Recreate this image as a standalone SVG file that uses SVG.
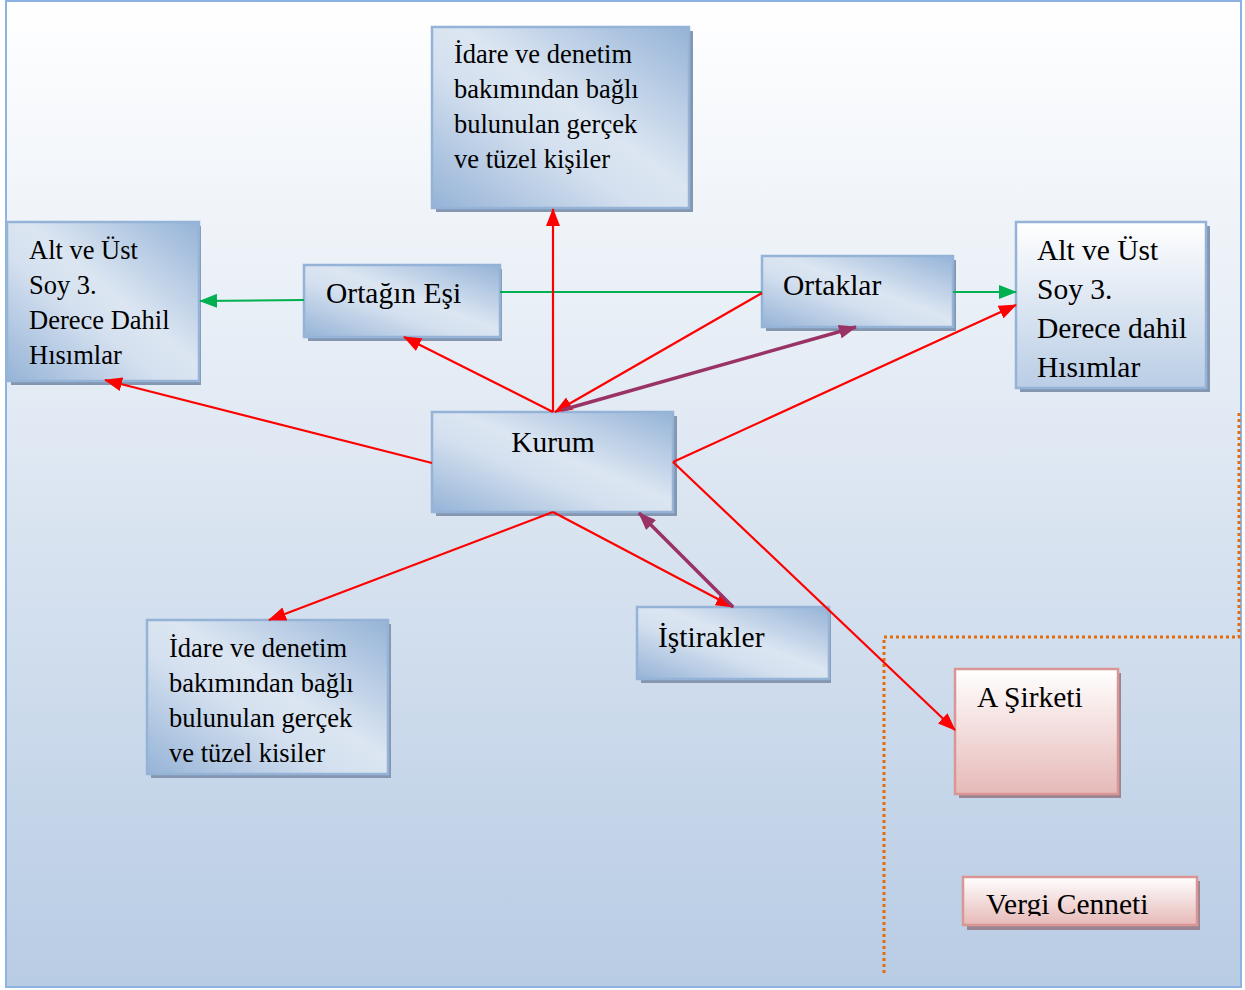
<svg xmlns="http://www.w3.org/2000/svg" width="1245" height="990" viewBox="0 0 1245 990">
  <defs>
    <linearGradient id="bg" x1="0" y1="0" x2="0" y2="1">
      <stop offset="0" stop-color="#ffffff"/>
      <stop offset="1" stop-color="#b8cce4"/>
    </linearGradient>
    <linearGradient id="blueBox" x1="1" y1="0" x2="0" y2="1">
      <stop offset="0" stop-color="#95b3d7"/>
      <stop offset="0.45" stop-color="#dce6f2"/>
      <stop offset="0.6" stop-color="#d4e0ef"/>
      <stop offset="1" stop-color="#95b3d7"/>
    </linearGradient>
    <linearGradient id="paleBox" x1="0" y1="0" x2="0" y2="1">
      <stop offset="0" stop-color="#ffffff"/>
      <stop offset="1" stop-color="#b9cde5"/>
    </linearGradient>
    <linearGradient id="pinkBox" x1="0" y1="0" x2="0" y2="1">
      <stop offset="0" stop-color="#ffffff"/>
      <stop offset="1" stop-color="#e6b9b8"/>
    </linearGradient>
    <clipPath id="vergiClip">
      <rect x="963" y="877" width="234" height="39"/>
    </clipPath>
    <marker id="arRed" markerUnits="userSpaceOnUse" markerWidth="18" markerHeight="14" refX="17" refY="7" orient="auto">
      <path d="M0,0 L18,7 L0,14 z" fill="#ff0000"/>
    </marker>
    <marker id="arGreen" markerUnits="userSpaceOnUse" markerWidth="18" markerHeight="14" refX="17" refY="7" orient="auto">
      <path d="M0,0 L18,7 L0,14 z" fill="#00b050"/>
    </marker>
    <marker id="arPurple" markerUnits="userSpaceOnUse" markerWidth="18" markerHeight="14" refX="17" refY="7" orient="auto">
      <path d="M0,0 L18,7 L0,14 z" fill="#993366"/>
    </marker>
  </defs>
  <style>
    .shadow { fill: #8496b0; }
    .pshadow { fill: #9a8592; }
    .blue { fill: url(#blueBox); stroke: #95b3d7; stroke-width: 2.5; }
    .pale { fill: url(#paleBox); stroke: #95b3d7; stroke-width: 2.5; }
    .pink { fill: url(#pinkBox); stroke: #d99694; stroke-width: 2.5; }
    .t { font-family: "Liberation Serif", "Times New Roman", serif; font-size: 26.5px; fill: #000000; }
    .tl { font-family: "Liberation Serif", "Times New Roman", serif; font-size: 29.5px; fill: #000000; }
    .red { stroke: #ff0000; stroke-width: 2.2; fill: none; marker-end: url(#arRed); }
    .green { stroke: #00b050; stroke-width: 2; fill: none; }
    .greena { stroke: #00b050; stroke-width: 2; fill: none; marker-end: url(#arGreen); }
    .purple { stroke: #993366; stroke-width: 3.5; fill: none; marker-end: url(#arPurple); }
  </style>

  <!-- page background -->
  <rect x="6" y="1" width="1235" height="986" fill="url(#bg)" stroke="#8db3e2" stroke-width="2"/>

  <!-- dotted boundary of the tax haven zone -->
  <path d="M884,973 L884,637 L1239,637 L1239,412" fill="none" stroke="#e46c0a" stroke-width="3" stroke-dasharray="3,3"/>

  <g id="node-idare-top">
    <rect class="shadow" x="436" y="31" width="257" height="181"/>
    <rect class="blue" x="432" y="27" width="257" height="181"/>
    <text class="t" x="454" y="63">İdare ve denetim</text>
    <text class="t" x="454" y="98">bakımından bağlı</text>
    <text class="t" x="454" y="133">bulunulan gerçek</text>
    <text class="t" x="454" y="168">ve tüzel kişiler</text>
  </g>

  <g id="node-alt-ust-left">
    <rect class="shadow" x="11" y="226" width="190" height="159"/>
    <rect class="blue" x="7" y="222" width="192" height="159"/>
    <text class="t" x="29" y="259">Alt ve Üst</text>
    <text class="t" x="29" y="294">Soy 3.</text>
    <text class="t" x="29" y="329">Derece Dahil</text>
    <text class="t" x="29" y="364">Hısımlar</text>
  </g>

  <g id="node-ortagin-esi">
    <rect class="shadow" x="308" y="269" width="194" height="72"/>
    <rect class="blue" x="304" y="265" width="196" height="72"/>
    <text class="tl" x="326" y="303">Ortağın Eşi</text>
  </g>

  <g id="node-ortaklar">
    <rect class="shadow" x="766" y="260" width="190" height="71"/>
    <rect class="blue" x="762" y="256" width="191" height="71"/>
    <text class="tl" x="783" y="295">Ortaklar</text>
  </g>

  <g id="node-alt-ust-right">
    <rect class="shadow" x="1020" y="226" width="190" height="166"/>
    <rect class="pale" x="1016" y="222" width="190" height="166"/>
    <text class="tl" x="1037" y="260">Alt ve Üst</text>
    <text class="tl" x="1037" y="299">Soy 3.</text>
    <text class="tl" x="1037" y="338">Derece dahil</text>
    <text class="tl" x="1037" y="377">Hısımlar</text>
  </g>

  <g id="node-kurum">
    <rect class="shadow" x="436" y="416" width="241" height="100"/>
    <rect class="blue" x="432" y="412" width="241" height="100"/>
    <text class="tl" x="553" y="452" text-anchor="middle">Kurum</text>
  </g>

  <g id="node-idare-bottom">
    <rect class="shadow" x="151" y="624" width="240" height="154"/>
    <rect class="blue" x="147" y="620" width="241" height="154"/>
    <text class="t" x="169" y="657">İdare ve denetim</text>
    <text class="t" x="169" y="692">bakımından bağlı</text>
    <text class="t" x="169" y="727">bulunulan gerçek</text>
    <text class="t" x="169" y="762">ve tüzel kisiler</text>
  </g>

  <g id="node-istirakler">
    <rect class="shadow" x="641" y="611" width="190" height="72"/>
    <rect class="blue" x="637" y="607" width="192" height="72"/>
    <text class="tl" x="658" y="647">İştirakler</text>
  </g>

  <g id="node-a-sirketi">
    <rect class="pshadow" x="959" y="673" width="162" height="125"/>
    <rect class="pink" x="955" y="669" width="163" height="125"/>
    <text class="tl" x="977" y="707">A Şirketi</text>
  </g>

  <g id="node-vergi-cenneti">
    <rect class="pshadow" x="967" y="881" width="233" height="49"/>
    <rect class="pink" x="963" y="877" width="234" height="48"/>
    <text class="tl" x="986" y="914" clip-path="url(#vergiClip)">Vergi Cenneti</text>
  </g>

  <g id="connectors">
    <!-- green links between partners and their relatives -->
    <line class="greena" x1="304" y1="300" x2="200" y2="301"/>
    <line class="green" x1="500" y1="292" x2="762" y2="292"/>
    <line class="greena" x1="953" y1="292" x2="1016" y2="292"/>

    <!-- red links leaving the institution -->
    <line class="red" x1="553" y1="412" x2="553" y2="209"/>
    <line class="red" x1="553" y1="412" x2="404" y2="337"/>
    <line class="red" x1="762" y1="293" x2="555" y2="412"/>
    <line class="red" x1="432" y1="463" x2="105" y2="380"/>
    <line class="red" x1="673" y1="462" x2="1016" y2="305"/>
    <line class="red" x1="673" y1="462" x2="955" y2="730"/>
    <line class="red" x1="553" y1="512" x2="269" y2="620"/>
    <line class="red" x1="553" y1="512" x2="733" y2="607"/>

    <!-- purple two-way ownership links -->
    <line class="purple" x1="562" y1="410" x2="856" y2="327"/>
    <line class="purple" x1="733" y1="607" x2="639" y2="513"/>
  </g>
</svg>
